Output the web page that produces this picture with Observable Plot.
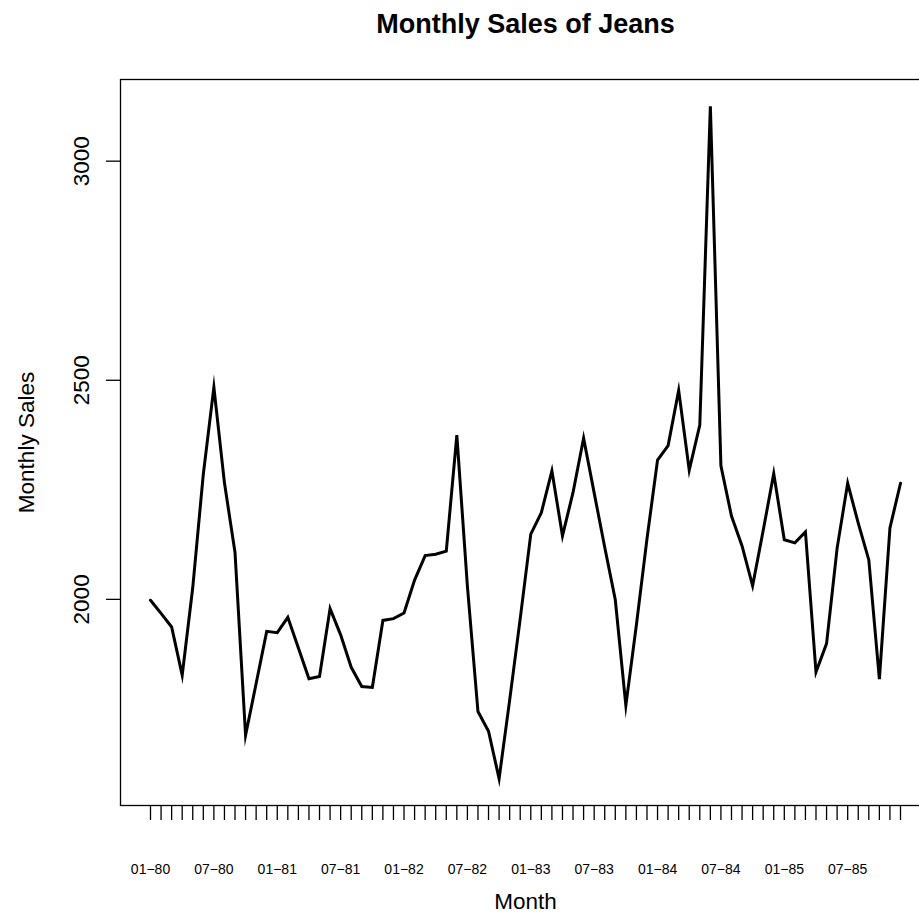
<!DOCTYPE html>
<html>
<head>
<meta charset="utf-8">
<script src="https://cdn.jsdelivr.net/npm/d3@7"></script>
<script src="https://cdn.jsdelivr.net/npm/@observablehq/plot@0.6"></script>
<style>
  html, body { margin: 0; padding: 0; background: #fff; overflow: hidden; width: 919px; height: 913px; }
  #chart { width: 940px; }
  #chart svg { display: block; max-width: none !important; width: 940px !important; height: 913px !important; }
</style>
</head>
<body>
<div id="chart"></div>
<script>
// Monthly jeans sales, Jan 1980 – Dec 1985
const sales = [1998,1968,1937,1827,2027,2286,2484,2266,2107,1690,1808,1927,
               1924,1959,1889,1819,1824,1979,1919,1845,1801,1799,1952,1956,
               1969,2044,2100,2103,2110,2375,2030,1744,1699,1591,1770,1956,
               2149,2198,2293,2145,2244,2368,2243,2119,1999,1758,1942,2138,
               2318,2351,2477,2295,2398,3125,2305,2190,2122,2031,2157,2287,
               2136,2129,2154,1834,1899,2117,2265,2174,2090,1818,2163,2265];
const monthIndex = sales.map((_, i) => i);
const xTickLabels = ["01\u221280","07\u221280","01\u221281","07\u221281","01\u221282","07\u221282",
                     "01\u221283","07\u221283","01\u221284","07\u221284","01\u221285","07\u221285"];
const yTicks = [2000, 2500, 3000];
const titleText = "Monthly Sales of Jeans";
const xTitle = "Month";
const yTitle = "Monthly Sales";

const data = monthIndex.map(i => ({i, v: sales[i]}));

// R-style 4% padding of the data range
const n = sales.length;
const xPad = (n - 1) * 0.04;
const yMin = d3.min(sales), yMax = d3.max(sales);
const yPad = (yMax - yMin) * 0.04;

const font = "'Liberation Sans', Arial, Helvetica, sans-serif";

const chart = Plot.plot({
  width: 940,
  height: 913,
  marginLeft: 120,
  marginRight: 10,
  marginTop: 79,
  marginBottom: 108,
  style: {fontFamily: font, color: "#000", background: "#fff", overflow: "visible", maxWidth: "none"},
  x: {domain: [0 - xPad, n - 1 + xPad]},
  y: {domain: [yMin - yPad, yMax + yPad]},
  marks: [
    Plot.frame({stroke: "#000", strokeWidth: 1.3}),
    Plot.axisX({
      ticks: monthIndex,
      tickFormat: i => (i % 6 === 0 ? xTickLabels[i / 6] : ""),
      tickSize: 15,
      tickPadding: 44,
      strokeWidth: 1.3,
      fontSize: 14,
      fill: "#000",
      label: null
    }),
    Plot.axisY({
      ticks: yTicks,
      tickSize: 14,
      strokeWidth: 1.3,
      tickFormat: d => String(d),
      label: null,
      text: null
    }),
    Plot.text(yTicks, {
      y: d => d,
      text: d => String(d),
      frameAnchor: "left",
      dx: -32,
      rotate: -90,
      textAnchor: "middle",
      lineAnchor: "bottom",
      fontSize: 22.5,
      fill: "#000"
    }),
    Plot.lineY(data, {x: "i", y: "v", stroke: "#000", strokeWidth: 3, strokeLinejoin: "miter", strokeMiterlimit: 10}),
    Plot.text([titleText], {
      frameAnchor: "top",
      dy: -47,
      lineAnchor: "bottom",
      fontSize: 27,
      fontWeight: "bold",
      fill: "#000"
    }),
    Plot.text([xTitle], {
      frameAnchor: "bottom",
      dy: 103,
      lineAnchor: "bottom",
      fontSize: 22.5,
      fill: "#000"
    }),
    Plot.text([yTitle], {
      frameAnchor: "left",
      dx: -87,
      rotate: -90,
      textAnchor: "middle",
      lineAnchor: "bottom",
      fontSize: 22.5,
      fill: "#000"
    })
  ]
});
document.getElementById("chart").appendChild(chart);
</script>
</body>
</html>
